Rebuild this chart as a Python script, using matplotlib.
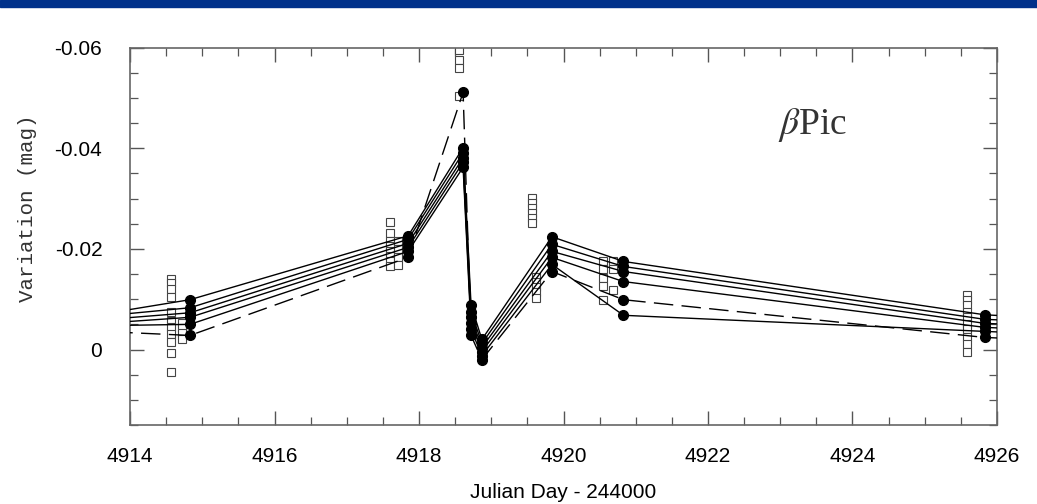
import matplotlib.pyplot as plt
from matplotlib.ticker import MultipleLocator, FuncFormatter
from matplotlib.patches import Rectangle

# nightly means (filled circles), one list per comparison star
jd_mean = [4913.0, 4914.83, 4917.85, 4918.61, 4918.72, 4918.87, 4919.84, 4920.83, 4925.83, 4926.5]
mag_1 = [-0.0056, -0.0099, -0.0226, -0.0401, -0.0089, -0.0020, -0.0224, -0.0175, -0.0069, -0.0064]
mag_2 = [-0.0058, -0.0083, -0.0219, -0.0391, -0.0075, -0.0012, -0.0209, -0.0165, -0.0060, -0.0056]
mag_3 = [-0.0052, -0.0073, -0.0211, -0.0381, -0.0064, -0.0004, -0.0195, -0.0155, -0.0052, -0.0048]
mag_4 = [-0.0046, -0.0064, -0.0203, -0.0372, -0.0052, 0.0004, -0.0183, -0.0135, -0.0044, -0.0040]
mag_5 = [-0.0046, -0.0050, -0.0195, -0.0362, -0.0040, 0.0012, -0.0169, -0.0068, -0.0036, -0.0032]
mag_dash = [-0.0040, -0.0028, -0.0183, -0.0511, -0.0028, 0.0020, -0.0155, -0.0099, -0.0024, -0.0020]

# individual measurements (open squares)
sq_jd = ([4914.57] * 11 + [4914.72] * 4 + [4917.60] * 8 + [4917.71] * 4 + [4918.56] * 4
         + [4919.57] * 6 + [4919.62] * 5 + [4920.55] * 5 + [4920.69] * 3 + [4925.59] * 10)
sq_mag = [-0.0141, -0.0133, -0.0121, -0.0105, -0.0075, -0.0056, -0.0044, -0.0030, -0.0014, 0.0006, 0.0044,
          -0.0052, -0.0042, -0.0032, -0.0020,
          -0.0254, -0.0232, -0.0215, -0.0205, -0.0195, -0.0185, -0.0175, -0.0165,
          -0.0215, -0.0199, -0.0183, -0.0167,
          -0.0596, -0.0576, -0.0560, -0.0503,
          -0.0302, -0.0292, -0.0282, -0.0272, -0.0262, -0.0252,
          -0.0145, -0.0135, -0.0125, -0.0115, -0.0103,
          -0.0175, -0.0159, -0.0143, -0.0127, -0.0099,
          -0.0175, -0.0159, -0.0119,
          -0.0109, -0.0099, -0.0089, -0.0075, -0.0064, -0.0050, -0.0040, -0.0024, -0.0010, 0.0004]

plt.rcParams['mathtext.fontset'] = 'stix'

fig = plt.figure(figsize=(10.37, 5.04), dpi=100)
ax = fig.add_axes([0.1254, 0.1567, 0.836, 0.749])

# blue band on top
fig.patches.append(Rectangle((0, 1 - 7 / 504), 1, 7 / 504, transform=fig.transFigure,
                             color='#00318a', zorder=0))

ax.plot(sq_jd, sq_mag, 's', ms=5.5, mfc='white', mec='#444444', mew=0.8, zorder=2)

for m in [mag_1, mag_2, mag_3, mag_4, mag_5]:
    ax.plot(jd_mean, m, '-', color='black', lw=1.0, zorder=3)
    ax.plot(jd_mean, m, 'o', color='black', ms=7, zorder=4)
ax.plot(jd_mean, mag_dash, color='black', lw=1.0, dashes=(14, 6), zorder=3)
ax.plot(jd_mean, mag_dash, 'o', color='black', ms=7, zorder=4)

ax.set_xlim(4914, 4926)
ax.set_ylim(0.015, -0.06)

ax.xaxis.set_major_locator(MultipleLocator(2))
ax.xaxis.set_minor_locator(MultipleLocator(0.5))
ax.yaxis.set_major_locator(MultipleLocator(0.02))
ax.yaxis.set_minor_locator(MultipleLocator(0.005))
ax.yaxis.set_major_formatter(FuncFormatter(lambda v, p: '0' if abs(v) < 1e-9 else '%.2f' % v))

ax.tick_params(which='both', direction='in', top=True, right=True, color='#555555')
ax.tick_params(which='major', length=10, width=1.0)
ax.tick_params(which='minor', length=5.5, width=0.9)
ax.tick_params(axis='x', which='major', pad=16, labelsize=15)
ax.tick_params(axis='y', which='major', pad=20, labelsize=15)
for lbl in ax.get_xticklabels() + ax.get_yticklabels():
    lbl.set_fontfamily('Liberation Sans')

for s in ax.spines.values():
    s.set_color('#666666')
    s.set_linewidth(1.2)

ax.set_xlabel('Julian Day - 244000', fontsize=15, family='Liberation Sans', labelpad=12)
fig.text(28 / 1037, 1 - 208 / 504, 'Variation (mag)', rotation=90, fontsize=15,
         family='Liberation Mono', color='#333333', ha='center', va='center')

ax.text(0.747, 0.795, r'$\beta$Pic', transform=ax.transAxes, fontsize=27,
        family='Liberation Serif', color='#333333', va='center', ha='left')

fig.savefig('out.png', dpi=100)
